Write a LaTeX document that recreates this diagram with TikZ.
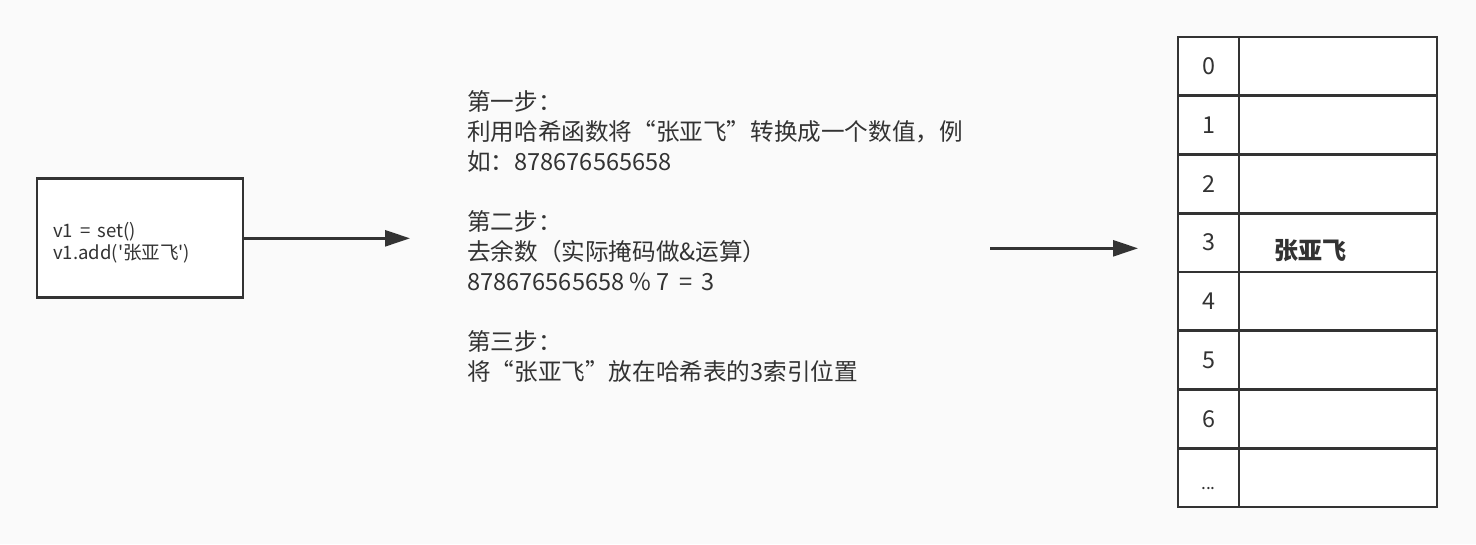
\documentclass[tikz,border=0pt]{standalone}
\usepackage{fontspec}
\setmainfont{Noto Sans CJK SC}
\newfontfamily\plainfont{Noto Sans CJK SC}
\usetikzlibrary{arrows.meta}
\definecolor{ink}{HTML}{333333}
\definecolor{bg}{HTML}{FAFAFA}
\begin{document}
\begin{tikzpicture}[x=0.75pt,y=-0.75pt,
  every node/.style={text=ink},
  codebox/.style={draw=ink,fill=white,line width=2pt,minimum width=154.5pt,minimum height=89.25pt,inner sep=0pt},
  codetxt/.style={font=\plainfont\fontsize{13.9}{15}\selectfont,anchor=base west,inner sep=0pt},
  steptxt/.style={font=\plainfont\fontsize{17.7}{20}\selectfont,anchor=base west,inner sep=0pt},
  idxcell/.style={draw=ink,fill=white,line width=2pt,minimum width=45.75pt,minimum height=44.06pt,inner sep=0pt,font=\plainfont\fontsize{17.5}{20}\selectfont},
  valcell/.style={draw=ink,fill=white,line width=2pt,minimum width=148.5pt,minimum height=44.06pt,inner sep=0pt},
  conn/.style={draw=ink,line width=2pt,-{Triangle[length=18.75pt,width=12pt]}}
]
\fill[bg] (0,0) rectangle (1476,544);
\useasboundingbox (0,0) rectangle (1476,544);

% code box
\node[codebox] (box) at (140,237.8) {};
\node[codetxt] (c1) at (53,237) {v1 \,=\, set()};
\node[codetxt] (c2) at (53,259) {v1.add('张亚飞')};

% arrow 1
\coordinate (a1end) at (410,238.3);
\draw[conn] (box.east |- a1end) -- (a1end);

% steps text
\node[steptxt] (s1) at (467,110) {第一步：};
\node[steptxt] (s2) at (467,140) {利用哈希函数将“张亚飞”转换成一个数值，例};
\node[steptxt] (s3) at (467,170) {如：878676565658};
\node[steptxt] (s4) at (467,230) {第二步：};
\node[steptxt] (s5) at (467,260) {去余数（实际掩码做\&运算）};
\node[steptxt] (s6) at (467,290) {878676565658 \% 7 \,=\, 3};
\node[steptxt] (s7) at (467,350) {第三步：};
\node[steptxt] (s8) at (467,380) {将“张亚飞”放在哈希表的3索引位置};

% arrow 2
\coordinate (a2start) at (990,248.3);
\coordinate (a2end) at (1138,248.3);
\draw[conn] (a2start) -- (a2end);

% table
\foreach \i/\lab in {0/0,1/1,2/2,3/3,4/4,5/5,6/6}{
  \node[idxcell] (i\i) at (1208.5,{37+58.75*\i+29.375}) {\lab};
  \node[valcell] (v\i) at (1338,{37+58.75*\i+29.375}) {};
}
\node[idxcell] (i7) at (1208.5,{37+58.75*7+29.375}) {};
\node[valcell] (v7) at (1338,{37+58.75*7+29.375}) {};
\node[font=\plainfont\fontsize{13}{14}\selectfont,anchor=base,inner sep=0pt] (dots) at (1208.5,489) {...};
\node[font=\plainfont\fontsize{18}{20}\selectfont\bfseries,anchor=west,inner sep=0pt] (name) at (1274,251) {张亚飞};
\end{tikzpicture}
\end{document}
